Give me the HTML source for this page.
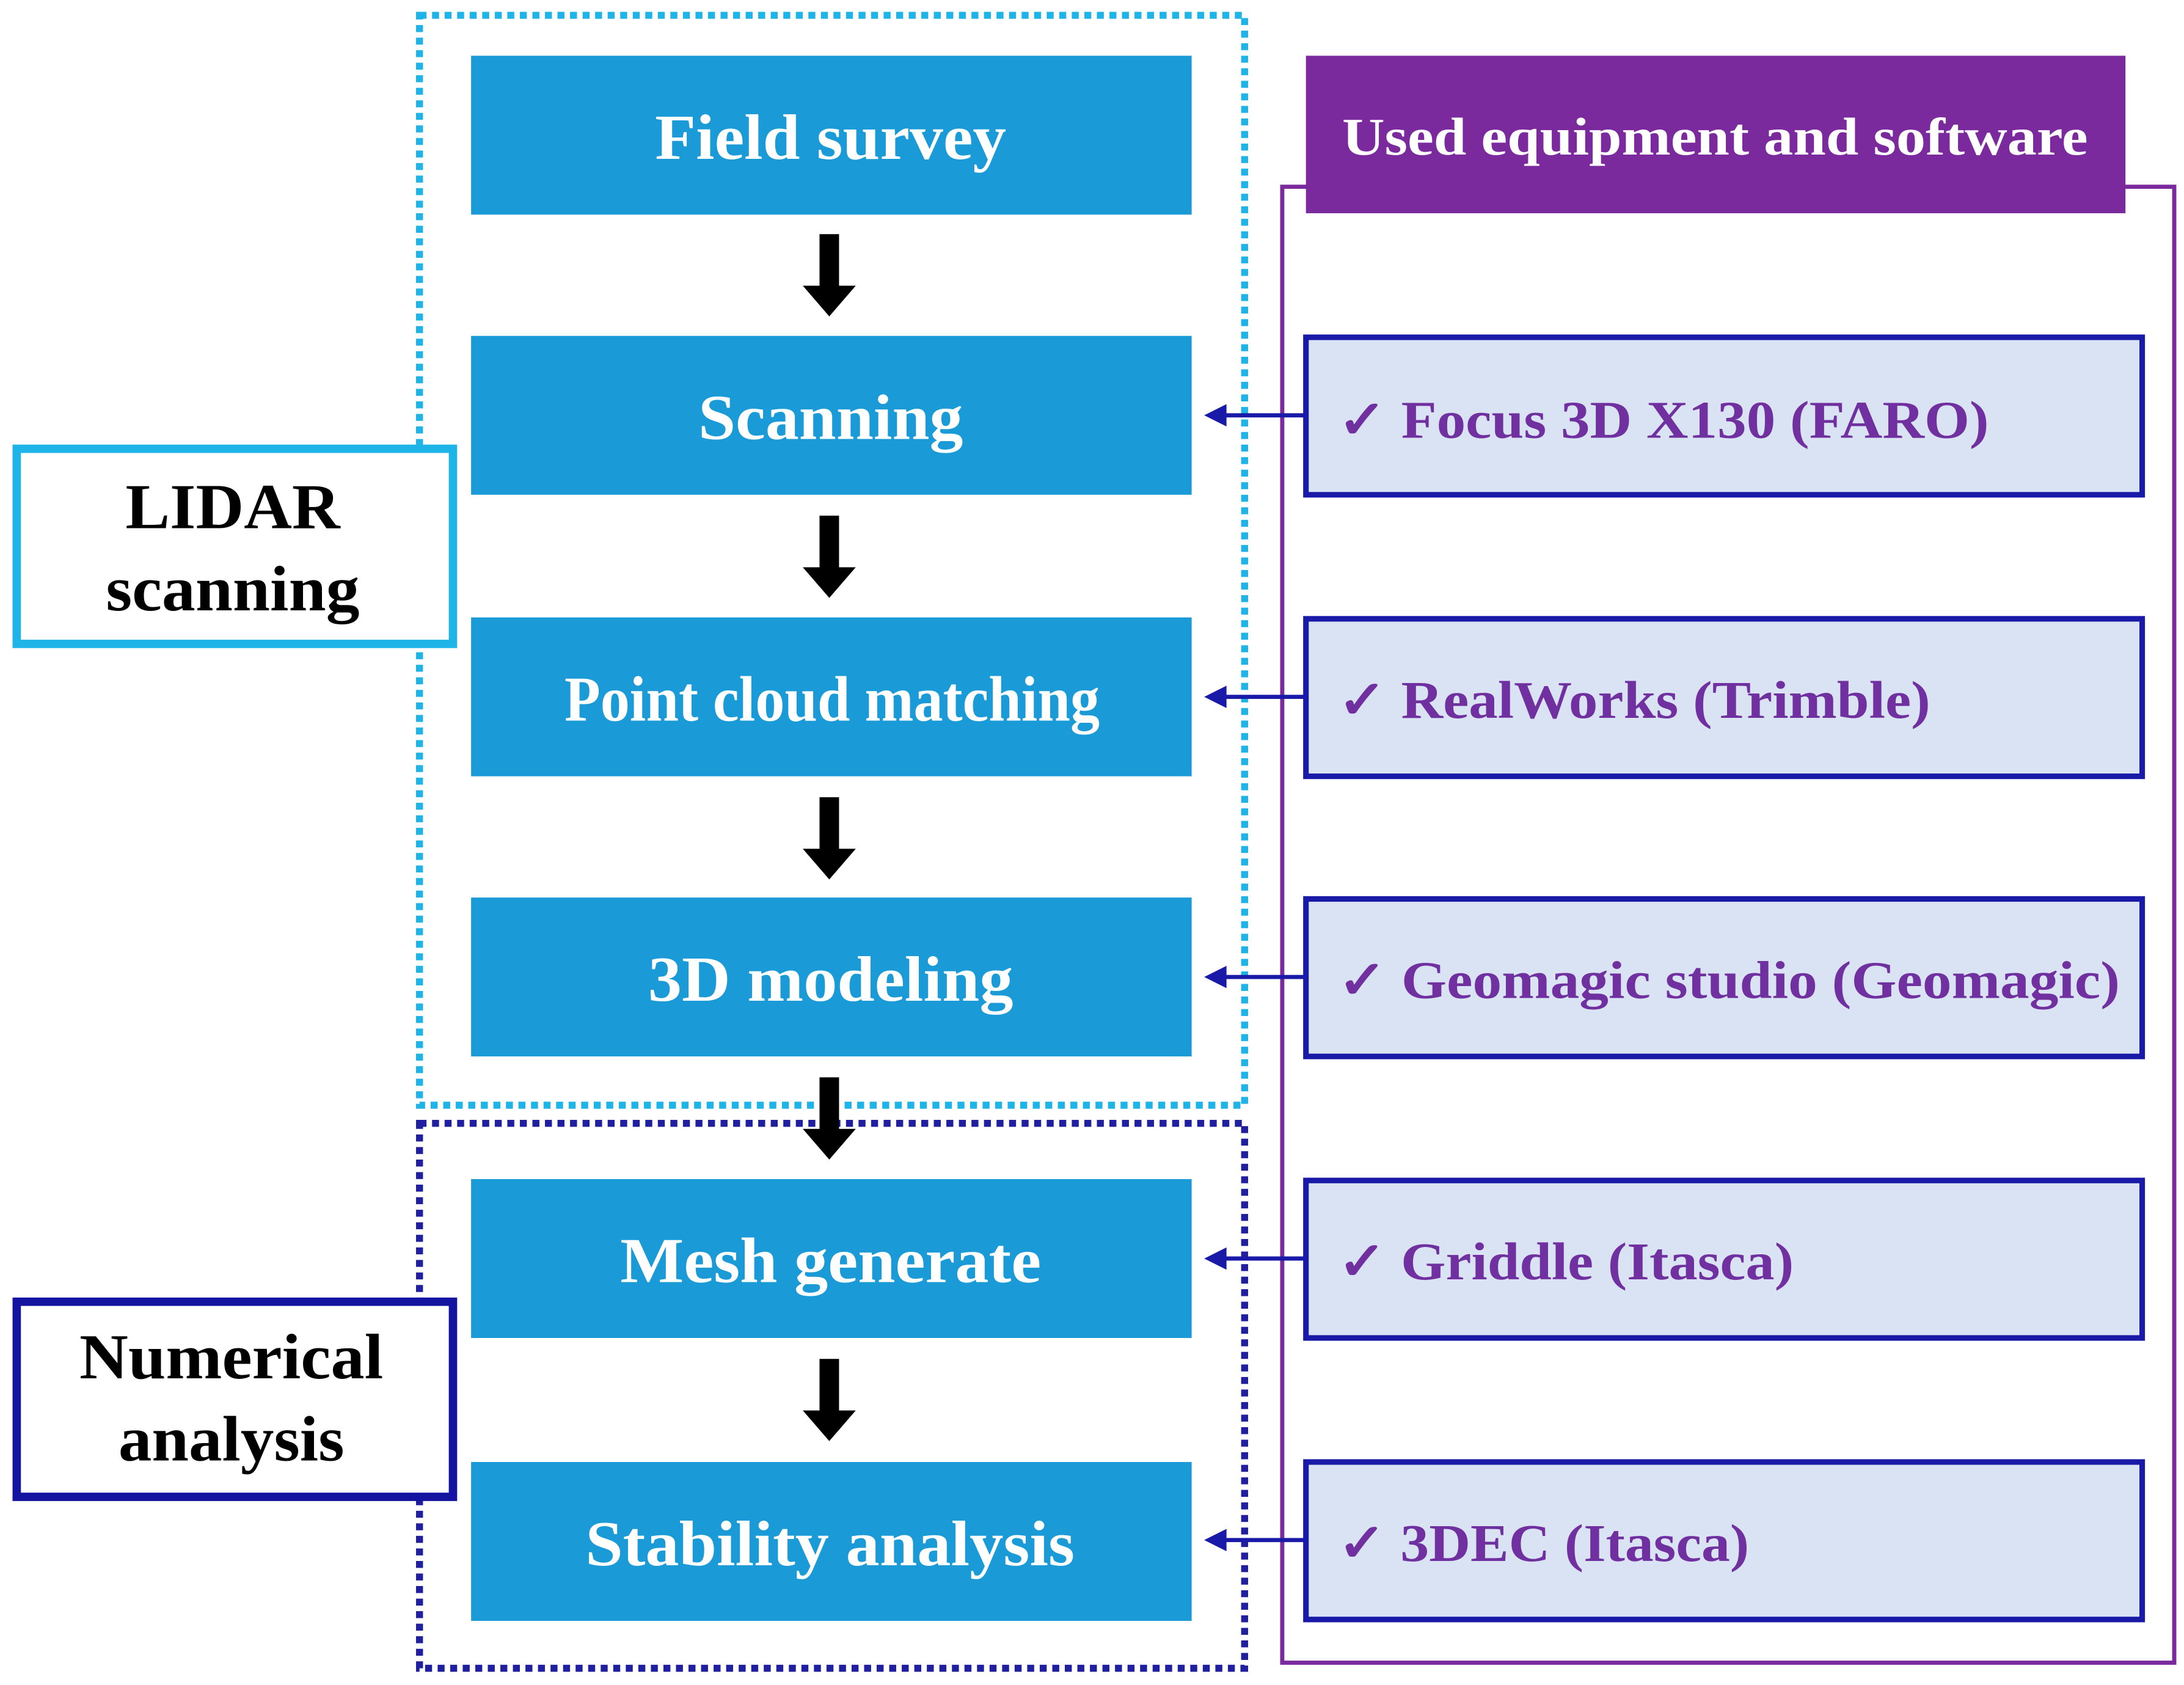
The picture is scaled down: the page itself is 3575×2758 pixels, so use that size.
<!DOCTYPE html>
<html><head><meta charset="utf-8"><style>
html,body{margin:0;padding:0;background:#fff;}
svg{display:block;}
text{font-family:"Liberation Serif",serif;font-weight:bold;}
</style></head><body>
<svg width="3575" height="2758" viewBox="0 0 1567 1209" preserveAspectRatio="none" xmlns="http://www.w3.org/2000/svg">
<rect x="301" y="11" width="592" height="782" fill="none" stroke="#1EB4E8" stroke-width="5" stroke-dasharray="5,4"/>
<rect x="301" y="806" width="592" height="391" fill="none" stroke="#1F1FA0" stroke-width="5" stroke-dasharray="5,4"/>
<rect x="920" y="134" width="640" height="1059" fill="none" stroke="#7B2A9E" stroke-width="3"/>
<rect x="937" y="40" width="588" height="113" fill="#7B2A9E"/>
<text x="963" y="111" font-size="38" fill="#fff" textLength="535" lengthAdjust="spacingAndGlyphs">Used equipment and software</text>
<g fill="#1A9AD6">
<rect x="338" y="40" width="517" height="114"/>
<rect x="338" y="241" width="517" height="114"/>
<rect x="338" y="443" width="517" height="114"/>
<rect x="338" y="644" width="517" height="114"/>
<rect x="338" y="846" width="517" height="114"/>
<rect x="338" y="1049" width="517" height="114"/>
</g>
<g fill="#fff" font-size="46">
<text x="470" y="114" textLength="252" lengthAdjust="spacingAndGlyphs">Field survey</text>
<text x="501" y="315" textLength="190" lengthAdjust="spacingAndGlyphs">Scanning</text>
<text x="405" y="517" textLength="384" lengthAdjust="spacingAndGlyphs">Point cloud matching</text>
<text x="465" y="718" textLength="262" lengthAdjust="spacingAndGlyphs">3D modeling</text>
<text x="445" y="920" textLength="302" lengthAdjust="spacingAndGlyphs">Mesh generate</text>
<text x="420" y="1123" textLength="351" lengthAdjust="spacingAndGlyphs">Stability analysis</text>
</g>
<g fill="#000">
<path d="M588,168 H602 V205 H614 L595,227 L576,205 H588 Z"/>
<path d="M588,370 H602 V407 H614 L595,429 L576,407 H588 Z"/>
<path d="M588,572 H602 V609 H614 L595,631 L576,609 H588 Z"/>
<path d="M588,773 H602 V810 H614 L595,832 L576,810 H588 Z"/>
<path d="M588,975 H602 V1012 H614 L595,1034 L576,1012 H588 Z"/>
</g>
<rect x="12" y="322" width="313" height="140" fill="#fff" stroke="#1EB4E8" stroke-width="6"/>
<text x="90" y="379" font-size="46" textLength="154" lengthAdjust="spacingAndGlyphs">LIDAR</text>
<text x="76" y="438" font-size="46" textLength="182" lengthAdjust="spacingAndGlyphs">scanning</text>
<rect x="12" y="934" width="313" height="140" fill="#fff" stroke="#1414A0" stroke-width="6"/>
<text x="57" y="989" font-size="46" textLength="218" lengthAdjust="spacingAndGlyphs">Numerical</text>
<text x="85" y="1048" font-size="46" textLength="162" lengthAdjust="spacingAndGlyphs">analysis</text>
<g fill="#DAE3F3" stroke="#1A1AA8" stroke-width="4">
<rect x="937" y="242" width="600" height="113"/>
<rect x="937" y="444" width="600" height="113"/>
<rect x="937" y="645" width="600" height="113"/>
<rect x="937" y="847" width="600" height="113"/>
<rect x="937" y="1049" width="600" height="113"/>
</g>
<g fill="#7030A0" font-size="38">
<text x="960" y="314" textLength="467" lengthAdjust="spacingAndGlyphs">✓ Focus 3D X130 (FARO)</text>
<text x="960" y="515" textLength="425" lengthAdjust="spacingAndGlyphs">✓ RealWorks (Trimble)</text>
<text x="960" y="716" textLength="561" lengthAdjust="spacingAndGlyphs">✓ Geomagic studio (Geomagic)</text>
<text x="960" y="918" textLength="327" lengthAdjust="spacingAndGlyphs">✓ Griddle (Itasca)</text>
<text x="960" y="1120" textLength="295" lengthAdjust="spacingAndGlyphs">✓ 3DEC (Itasca)</text>
</g>
<g stroke="#1A1AA8" stroke-width="3" fill="#1A1AA8">
<line x1="937" y1="298" x2="875" y2="298"/><path d="M864,298 L880,290 L880,306 Z" stroke="none"/>
<line x1="937" y1="500" x2="875" y2="500"/><path d="M864,500 L880,492 L880,508 Z" stroke="none"/>
<line x1="937" y1="701" x2="875" y2="701"/><path d="M864,701 L880,693 L880,709 Z" stroke="none"/>
<line x1="937" y1="903" x2="875" y2="903"/><path d="M864,903 L880,895 L880,911 Z" stroke="none"/>
<line x1="937" y1="1105" x2="875" y2="1105"/><path d="M864,1105 L880,1097 L880,1113 Z" stroke="none"/>
</g>
</svg>
</body></html>
